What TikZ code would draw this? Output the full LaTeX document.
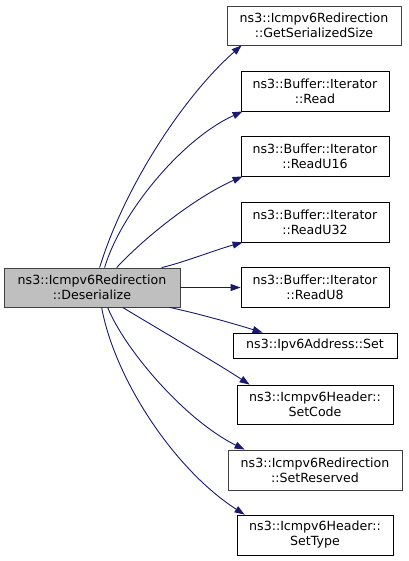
\documentclass[tikz,border=0pt]{standalone}
\usepackage{fontspec}
\setmainfont{DejaVu Sans}
\usetikzlibrary{arrows.meta,calc}
\definecolor{edgecol}{HTML}{191970}
\definecolor{mainfill}{HTML}{BFBFBF}
\definecolor{greyborder}{HTML}{404040}
\begin{document}
\begin{tikzpicture}[x=1pt,y=-1pt,
  fn/.style={draw=black, fill=white, line width=0.8pt, inner sep=0pt, align=center,
    font=\fontsize{12.6}{15}\selectfont},
  greyfn/.style={fn, draw=greyborder},
  edge/.style={draw=edgecol, line width=0.9pt, -{Triangle[length=10pt,width=7pt]}}]
\useasboundingbox (0,0) rectangle (408,561);
\node[fn, fill=mainfill, draw=greyborder, minimum width=176pt, minimum height=39pt] (main) at (92,287.5) {ns3::Icmpv6Redirection\\::Deserialize};
\node[greyfn, minimum width=174pt, minimum height=39pt] (gss) at (314,25.5) {ns3::Icmpv6Redirection\\::GetSerializedSize};
\node[fn, minimum width=148pt, minimum height=40pt] (read) at (315,91) {ns3::Buffer::Iterator\\::Read};
\node[fn, minimum width=148pt, minimum height=40pt] (u16) at (315,156) {ns3::Buffer::Iterator\\::ReadU16};
\node[fn, minimum width=148pt, minimum height=40pt] (u32) at (315,222) {ns3::Buffer::Iterator\\::ReadU32};
\node[fn, minimum width=148pt, minimum height=40pt] (u8) at (315,287.5) {ns3::Buffer::Iterator\\::ReadU8};
\node[fn, minimum width=164pt, minimum height=25pt] (set) at (315,345.5) {ns3::Ipv6Address::Set};
\node[fn, minimum width=156pt, minimum height=39pt] (code) at (315,404.5) {ns3::Icmpv6Header::\\SetCode};
\node[greyfn, minimum width=174pt, minimum height=40pt] (res) at (315,470) {ns3::Icmpv6Redirection\\::SetReserved};
\node[fn, minimum width=156pt, minimum height=40pt] (type) at (315,535) {ns3::Icmpv6Header::\\SetType};

\draw[edge] ($(main.north west)+(96,0)$) .. controls (125,185) and (185,95) .. ($(gss.south west)+(15,0)$);
\draw[edge] ($(main.north west)+(101,0)$) .. controls (120,215) and (180,140) .. ($(read.south west)+(2,0)$);
\draw[edge] ($(main.north west)+(113,0)$) .. controls (150,232) and (200,195) .. ($(u16.south west)+(2,0)$);
\draw[edge] ($(main.north west)+(158,0)$) .. controls (185,262) and (215,250) .. ($(u32.south west)+(2,0)$);
\draw[edge] (main.east) -- (u8.west);
\draw[edge] ($(main.south west)+(166,0)$) .. controls (200,314) and (235,324) .. ($(set.north west)+(30,0)$);
\draw[edge] ($(main.south west)+(119,0)$) .. controls (160,330) and (215,362) .. ($(code.north west)+(13,0)$);
\draw[edge] ($(main.south west)+(104,0)$) .. controls (125,350) and (185,420) .. ($(res.north west)+(17,0)$);
\draw[edge] ($(main.south west)+(98,0)$) .. controls (115,380) and (175,470) .. ($(type.north west)+(8,0)$);
\end{tikzpicture}
\end{document}
